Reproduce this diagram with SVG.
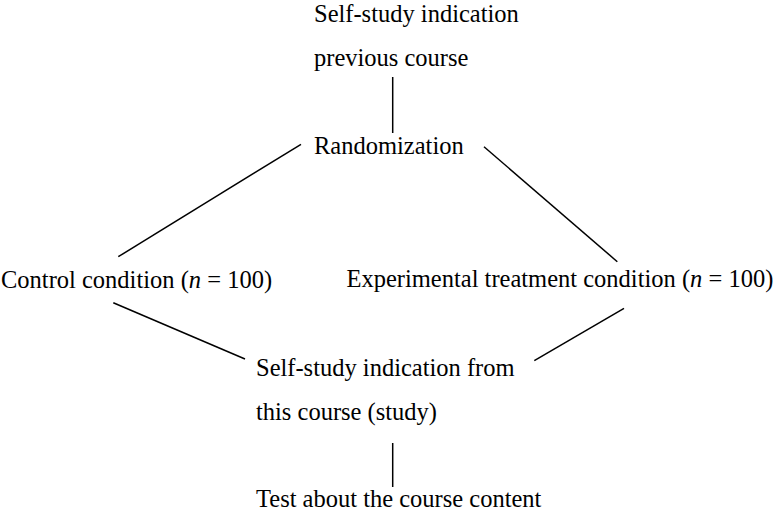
<svg xmlns="http://www.w3.org/2000/svg" width="776" height="516" viewBox="0 0 776 516">
<style>
text{font-family:"Liberation Serif","Times New Roman",serif;font-size:24.5px;fill:#000}
.c line{stroke:#000;stroke-width:1.5;stroke-linecap:butt}
</style>
<rect width="776" height="516" fill="#fff"/>
<g id="n-previous"><text x="314" y="22">Self-study indication</text><text x="314" y="65.5">previous course</text></g>
<g id="n-random"><text x="314" y="154">Randomization</text></g>
<g id="n-control"><text x="1" y="288">Control condition (<tspan font-style="italic">n</tspan> = 100)</text></g>
<g id="n-exp"><text x="346.5" y="287">Experimental treatment condition (<tspan font-style="italic">n</tspan> = 100)</text></g>
<g id="n-study"><text x="256" y="376">Self-study indication from</text><text x="256" y="420">this course (study)</text></g>
<g id="n-test"><text x="256" y="506.5">Test about the course content</text></g>
<g class="c" id="connectors">
<line x1="392.7" y1="77" x2="392.7" y2="133"/>
<line x1="301" y1="144.3" x2="118.3" y2="256.7"/>
<line x1="484" y1="146.7" x2="617.3" y2="261.7"/>
<line x1="113.3" y1="302.7" x2="245" y2="359"/>
<line x1="624" y1="308.3" x2="534.3" y2="360.7"/>
<line x1="392.7" y1="443" x2="392.7" y2="487"/>
</g>
</svg>
